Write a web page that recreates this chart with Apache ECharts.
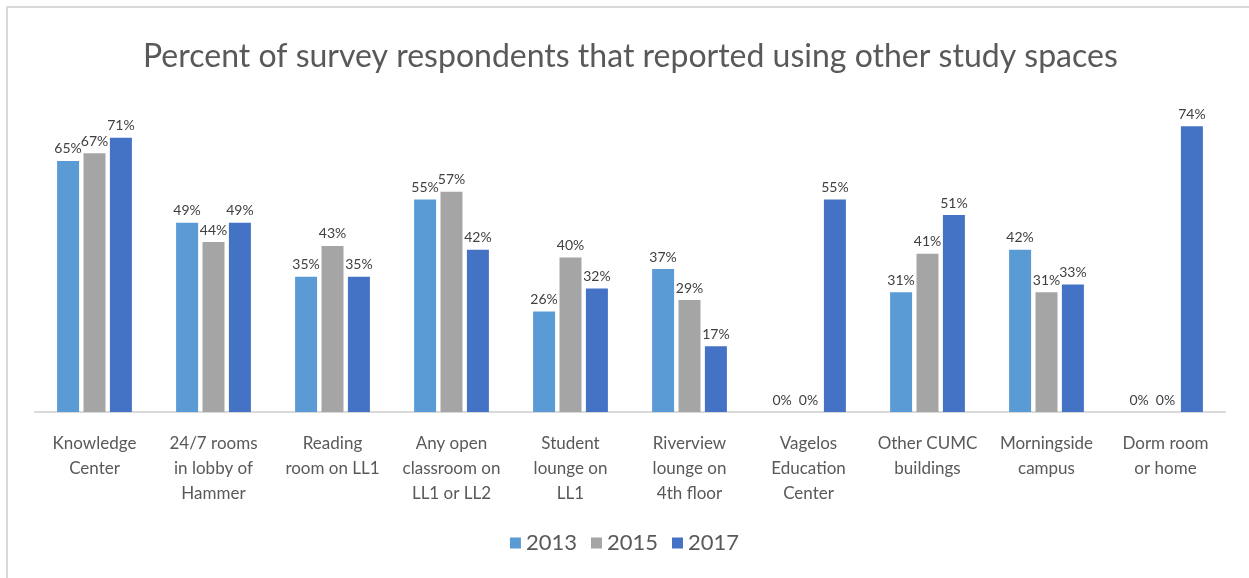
<!DOCTYPE html>
<html>
<head>
<meta charset="utf-8">
<script src="https://cdn.jsdelivr.net/npm/echarts@6/dist/echarts.min.js"></script>
<style>
  html, body { margin: 0; padding: 0; background: #fff; }
  #chart { width: 1249px; height: 578px; }
</style>
</head>
<body>
<div id="chart"></div>
<script>
// data
const categories = [
  'Knowledge\nCenter',
  '24/7 rooms\nin lobby of\nHammer',
  'Reading\nroom on LL1',
  'Any open\nclassroom on\nLL1 or LL2',
  'Student\nlounge on\nLL1',
  'Riverview\nlounge on\n4th floor',
  'Vagelos\nEducation\nCenter',
  'Other CUMC\nbuildings',
  'Morningside\ncampus',
  'Dorm room\nor home'
];
const years = ['2013', '2015', '2017'];
const v2013 = [65, 49, 35, 55, 26, 37, 0, 31, 42, 0];
const v2015 = [67, 44, 43, 57, 40, 29, 0, 41, 31, 0];
const v2017 = [71, 49, 35, 42, 32, 17, 55, 51, 33, 74];
const colors = ['#5B9BD5', '#A5A5A5', '#4472C4'];

const font = 'Lato, "Open Sans", sans-serif';
let myChart = echarts.init(document.getElementById('chart'));

function barSeries(name, data, color) {
  return {
    name: name,
    type: 'bar',
    data: data,
    barWidth: 22,
    barGap: '20%',
    itemStyle: { color: color },
    label: {
      show: true,
      position: 'top',
      distance: 5,
      formatter: '{c}%',
      color: '#404040',
      fontSize: 14,
      fontFamily: font
    }
  };
}

myChart.setOption({
  animation: false,
  backgroundColor: '#fff',
  // chart frame: only top and left edges are visible in the picture
  graphic: [{
    type: 'rect',
    shape: { x: 7, y: 7, width: 1400, height: 800 },
    style: { fill: 'none', stroke: '#d9d9d9', lineWidth: 2 },
    silent: true
  }],
  title: {
    text: 'Percent of survey respondents that reported using other study spaces',
    left: 138,
    top: 36,
    textStyle: { color: '#595959', fontSize: 32, fontWeight: 'normal', fontFamily: font }
  },
  legend: {
    data: years,
    bottom: 19,
    left: 'center',
    icon: 'rect',
    itemWidth: 11,
    itemHeight: 11,
    itemGap: 14,
    textStyle: { color: '#595959', fontSize: 22, fontFamily: font }
  },
  grid: { left: 35, right: 24, top: 103, bottom: 166 },
  xAxis: {
    type: 'category',
    data: categories,
    axisLine: { lineStyle: { color: '#d9d9d9', width: 2 } },
    axisTick: { show: false },
    axisLabel: {
      interval: 0,
      margin: 19,
      color: '#595959',
      fontSize: 17,
      lineHeight: 25,
      fontFamily: font
    }
  },
  yAxis: {
    type: 'value',
    min: 0,
    max: 80,
    show: false,
    splitLine: { show: false }
  },
  series: [
    barSeries(years[0], v2013, colors[0]),
    barSeries(years[1], v2015, colors[1]),
    barSeries(years[2], v2017, colors[2])
  ]
});
</script>
</body>
</html>
